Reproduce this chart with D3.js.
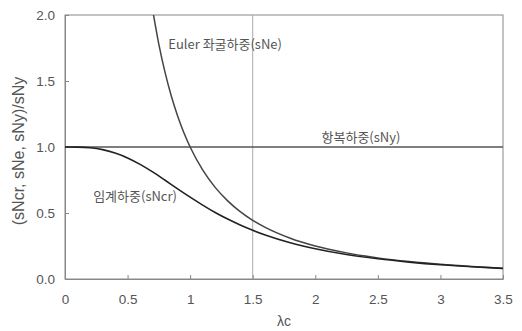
<!DOCTYPE html>
<html><head><meta charset="utf-8">
<script src="https://cdn.jsdelivr.net/npm/d3@7"></script>
<style>body{margin:0;background:#fff;}svg{display:block;}</style>
</head><body>
<svg id="c" width="522" height="331"></svg>
<script>
// Data
const xTicks = [0, 0.5, 1, 1.5, 2, 2.5, 3, 3.5];
const xTickLabels = ["0", "0.5", "1", "1.5", "2", "2.5", "3", "3.5"];
const yTicks = [0, 0.5, 1.0, 1.5, 2.0];
const yTickLabels = ["0.0", "0.5", "1.0", "1.5", "2.0"];

const eulerLambda = [0.70, 0.75, 0.80, 0.85, 0.90, 0.95, 1.00, 1.10, 1.20, 1.30, 1.40, 1.50, 1.60, 1.80, 2.00, 2.25, 2.50, 2.75, 3.00, 3.25, 3.50];
const eulerValue  = [2.04, 1.778, 1.563, 1.384, 1.235, 1.108, 1.00, 0.826, 0.694, 0.592, 0.510, 0.444, 0.391, 0.309, 0.250, 0.198, 0.160, 0.132, 0.111, 0.095, 0.082];

const critLambda = [0, 0.1, 0.2, 0.3, 0.4, 0.5, 0.6, 0.7, 0.8, 0.9, 1.0, 1.1, 1.2, 1.3, 1.4, 1.5, 1.6, 1.8, 2.0, 2.25, 2.5, 2.75, 3.0, 3.25, 3.5];
const critValue  = [1.0, 0.999, 0.994, 0.980, 0.954, 0.917, 0.868, 0.811, 0.748, 0.683, 0.620, 0.560, 0.504, 0.454, 0.409, 0.369, 0.334, 0.275, 0.229, 0.185, 0.153, 0.128, 0.108, 0.093, 0.080];

const yieldLambda = [0, 3.5];
const yieldValue = [1.0, 1.0];
const refLambda = 1.5;

const curveLabels = ["Euler 좌굴하중(sNe)", "항복하중(sNy)", "임계하중(sNcr)"];

const svg = d3.select("#c");
const m = {l: 65, r: 19, t: 15, b: 52};
const W = 522, H = 331;
const x = d3.scaleLinear().domain([0, 3.5]).range([m.l, W - m.r]);
const y = d3.scaleLinear().domain([0, 2.0]).range([H - m.b, m.t]);

const font = "'Liberation Sans', Arial, sans-serif";
const kfont = "'Noto Sans CJK KR', sans-serif";
const textCol = "#555";

svg.append("defs").append("clipPath").attr("id", "clip")
  .append("rect").attr("x", x(0)).attr("y", y(2)).attr("width", x(3.5) - x(0)).attr("height", y(0) - y(2));

// frame
svg.append("rect").attr("x", x(0)).attr("y", y(2)).attr("width", x(3.5) - x(0)).attr("height", y(0) - y(2))
  .attr("fill", "none").attr("stroke", "#888").attr("stroke-width", 1);

// vertical reference line
svg.append("line").attr("x1", x(refLambda)).attr("x2", x(refLambda)).attr("y1", y(0)).attr("y2", y(2))
  .attr("stroke", "#aaa").attr("stroke-width", 1);

// axes
const xAxis = d3.axisBottom(x).tickValues(xTicks).tickFormat((d, i) => xTickLabels[i]).tickSizeInner(-4).tickSizeOuter(0).tickPadding(15);
const gx = svg.append("g").attr("transform", `translate(0,${y(0)})`).call(xAxis);
const yAxis = d3.axisLeft(y).tickValues(yTicks).tickFormat((d, i) => yTickLabels[i]).tickSizeInner(-4).tickSizeOuter(0).tickPadding(10);
const gy = svg.append("g").attr("transform", `translate(${x(0)},0)`).call(yAxis);
[gx, gy].forEach(g => {
  g.select(".domain").attr("stroke", "#888");
  g.selectAll(".tick line").attr("stroke", "#888");
  g.selectAll(".tick text").attr("fill", textCol).style("font-family", font).style("font-size", "13.5px");
});

const line = d3.line().x(d => x(d[0])).y(d => y(d[1])).curve(d3.curveMonotoneX);
const plot = svg.append("g").attr("clip-path", "url(#clip)");

plot.append("path").datum(yieldLambda.map((l, i) => [l, yieldValue[i]]))
  .attr("d", line).attr("fill", "none").attr("stroke", "#555").attr("stroke-width", 1.4);
plot.append("path").datum(eulerLambda.map((l, i) => [l, eulerValue[i]]))
  .attr("d", line).attr("fill", "none").attr("stroke", "#444").attr("stroke-width", 1.5);
plot.append("path").datum(critLambda.map((l, i) => [l, critValue[i]]))
  .attr("d", line).attr("fill", "none").attr("stroke", "#222").attr("stroke-width", 1.6);

// curve labels
const ann = [
  {t: curveLabels[0], lx: 0.825, ly: 1.745},
  {t: curveLabels[1], lx: 2.05, ly: 1.035},
  {t: curveLabels[2], lx: 0.225, ly: 0.59}
];
svg.selectAll("text.ann").data(ann).enter().append("text").attr("class", "ann")
  .attr("x", d => x(d.lx)).attr("y", d => y(d.ly))
  .attr("fill", textCol).style("font-family", kfont).style("font-size", "13px").text(d => d.t);

// axis titles
svg.append("text").attr("x", (x(0) + x(3.5)) / 2).attr("y", 326).attr("text-anchor", "middle")
  .attr("fill", textCol).style("font-family", font).style("font-size", "14px").text("λc");
svg.append("text").attr("transform", `translate(24,${(y(0) + y(2)) / 2 + 4}) rotate(-90)`).attr("text-anchor", "middle")
  .attr("fill", textCol).style("font-family", font).style("font-size", "16px").text("(sNcr, sNe, sNy)/sNy");
</script>
</body></html>
